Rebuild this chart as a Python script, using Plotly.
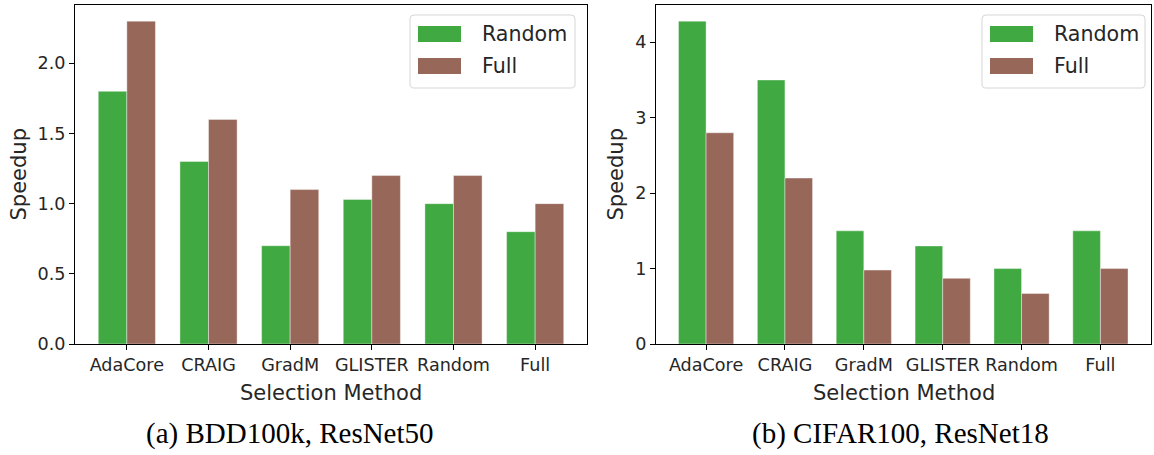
import plotly.graph_objects as go
from plotly.subplots import make_subplots

# ---- data ----
methods = ["AdaCore", "CRAIG", "GradM", "GLISTER", "Random", "Full"]
series_names = ["Random", "Full"]
bdd_random = [1.8, 1.3, 0.7, 1.03, 1.0, 0.8]
bdd_full = [2.3, 1.6, 1.1, 1.2, 1.2, 1.0]
cifar_random = [4.28, 3.5, 1.5, 1.3, 1.0, 1.5]
cifar_full = [2.8, 2.2, 0.98, 0.87, 0.67, 1.0]
bdd_yticks = [0.0, 0.5, 1.0, 1.5, 2.0]
bdd_yticklabels = ["0.0", "0.5", "1.0", "1.5", "2.0"]
cifar_yticks = [0, 1, 2, 3, 4]
cifar_yticklabels = ["0", "1", "2", "3", "4"]
captions = ["(a) BDD100k, ResNet50", "(b) CIFAR100, ResNet18"]
x_title = "Selection Method"
y_title = "Speedup"

W, H = 1154, 455      # reference picture size (layout coordinates)
FIG_H = 465           # rendered figure height (fills the browser viewport)
GREEN = "#41a942"
BROWN = "#97675a"
TXT = "#262626"
SANS = "DejaVu Sans"


def px(x):
    return x / W


def py(y):
    return 1 - y / H


fig = make_subplots(rows=1, cols=2)

panels = [
    (bdd_random, bdd_full, 1, [0, 2.415], bdd_yticks, bdd_yticklabels),
    (cifar_random, cifar_full, 2, [0, 4.494], cifar_yticks, cifar_yticklabels),
]
for rnd, full, col, yr, yt, ytl in panels:
    for vals, name, color in ((rnd, series_names[0], GREEN), (full, series_names[1], BROWN)):
        fig.add_trace(
            go.Bar(
                x=methods,
                y=vals,
                name=name,
                marker=dict(color=color, line=dict(color="rgba(255,255,255,0.5)", width=0.8)),
                showlegend=False,
            ),
            row=1,
            col=col,
        )
    fig.update_yaxes(range=yr, tickvals=yt, ticktext=ytl, row=1, col=col)

axis_common = dict(
    showline=True,
    mirror=True,
    linecolor="#000000",
    linewidth=1,
    ticks="outside",
    ticklen=5,
    tickwidth=1.2,
    tickcolor="#000000",
    showgrid=False,
    zeroline=False,
    tickfont=dict(family=SANS, size=17.6, color=TXT),
)
fig.update_xaxes(**axis_common, range=[-0.635, 5.635], type="category")
fig.update_yaxes(**axis_common)

fig.update_layout(
    xaxis=dict(domain=[px(75), px(587)]),
    xaxis2=dict(domain=[px(656), px(1150.5)]),
    yaxis=dict(domain=[py(344), py(5)]),
    yaxis2=dict(domain=[py(344), py(5)]),
    barmode="group",
    bargap=0.3,
    bargroupgap=0,
    width=W,
    height=FIG_H,
    autosize=False,
    margin=dict(l=0, r=0, t=0, b=0),
    paper_bgcolor="white",
    plot_bgcolor="white",
    showlegend=False,
)

annotations = []
shapes = []


def rrect(x0, y0, x1, y1, r):
    pts = [
        ("M", [(x0 + r, y0)]),
        ("L", [(x1 - r, y0)]),
        ("Q", [(x1, y0), (x1, y0 + r)]),
        ("L", [(x1, y1 - r)]),
        ("Q", [(x1, y1), (x1 - r, y1)]),
        ("L", [(x0 + r, y1)]),
        ("Q", [(x0, y1), (x0, y1 - r)]),
        ("L", [(x0, y0 + r)]),
        ("Q", [(x0, y0), (x0 + r, y0)]),
    ]
    s = ""
    for cmd, ps in pts:
        s += cmd + " " + " ".join(f"{px(a):.6f},{py(b):.6f}" for a, b in ps) + " "
    return s + "Z"


# custom legends (matplotlib-like)
for bx0, bx1 in ((410, 575), (982, 1145)):
    shapes.append(
        dict(
            type="path",
            xref="paper",
            yref="paper",
            path=rrect(bx0, 15, bx1, 88, 4),
            line=dict(color="#d6d6d6", width=1),
            fillcolor="rgba(255,255,255,0.85)",
            layer="above",
        )
    )
    patch_x0 = bx0 + 8
    for i, (name, color) in enumerate(zip(series_names, (GREEN, BROWN))):
        yc = 34 + 32 * i
        shapes.append(
            dict(
                type="rect",
                xref="paper",
                yref="paper",
                x0=px(patch_x0),
                x1=px(patch_x0 + 43),
                y0=py(yc + 8),
                y1=py(yc - 8),
                fillcolor=color,
                line=dict(width=0),
                layer="above",
            )
        )
        annotations.append(
            dict(
                text=name,
                xref="paper",
                yref="paper",
                x=px(patch_x0 + 62),
                y=py(yc),
                xanchor="left",
                yanchor="middle",
                showarrow=False,
                font=dict(family=SANS, size=20.6, color=TXT),
            )
        )

# axis titles
for xc, yx in ((331, 18), (903.5, 615)):
    annotations.append(
        dict(text=x_title, xref="paper", yref="paper", x=px(xc), y=py(393),
             xanchor="center", yanchor="middle", showarrow=False,
             font=dict(family=SANS, size=21, color=TXT))
    )
    annotations.append(
        dict(text=y_title, xref="paper", yref="paper", x=px(yx), y=py(174.5),
             xanchor="center", yanchor="middle", showarrow=False, textangle=-90,
             font=dict(family=SANS, size=21, color=TXT))
    )

# captions
for cap, xc in zip(captions, (290, 900)):
    annotations.append(
        dict(text=cap, xref="paper", yref="paper", x=px(xc), y=py(433),
             xanchor="center", yanchor="middle", showarrow=False,
             font=dict(family="Liberation Serif", size=29, color="#000000"))
    )

fig.update_layout(annotations=annotations, shapes=shapes)

post = """
var de = document.documentElement, b = document.body;
[de, b].forEach(function(e){ e.style.margin='0'; e.style.padding='0'; e.style.overflow='hidden'; });
b.style.lineHeight='0'; b.style.fontSize='0';
var gd = document.getElementsByClassName('plotly-graph-div')[0];
if (gd) { gd.style.display='block'; gd.style.margin='0'; }
window.scrollTo(0, 0);
"""
fig.write_html("out.html", config={"displayModeBar": False}, post_script=post)
